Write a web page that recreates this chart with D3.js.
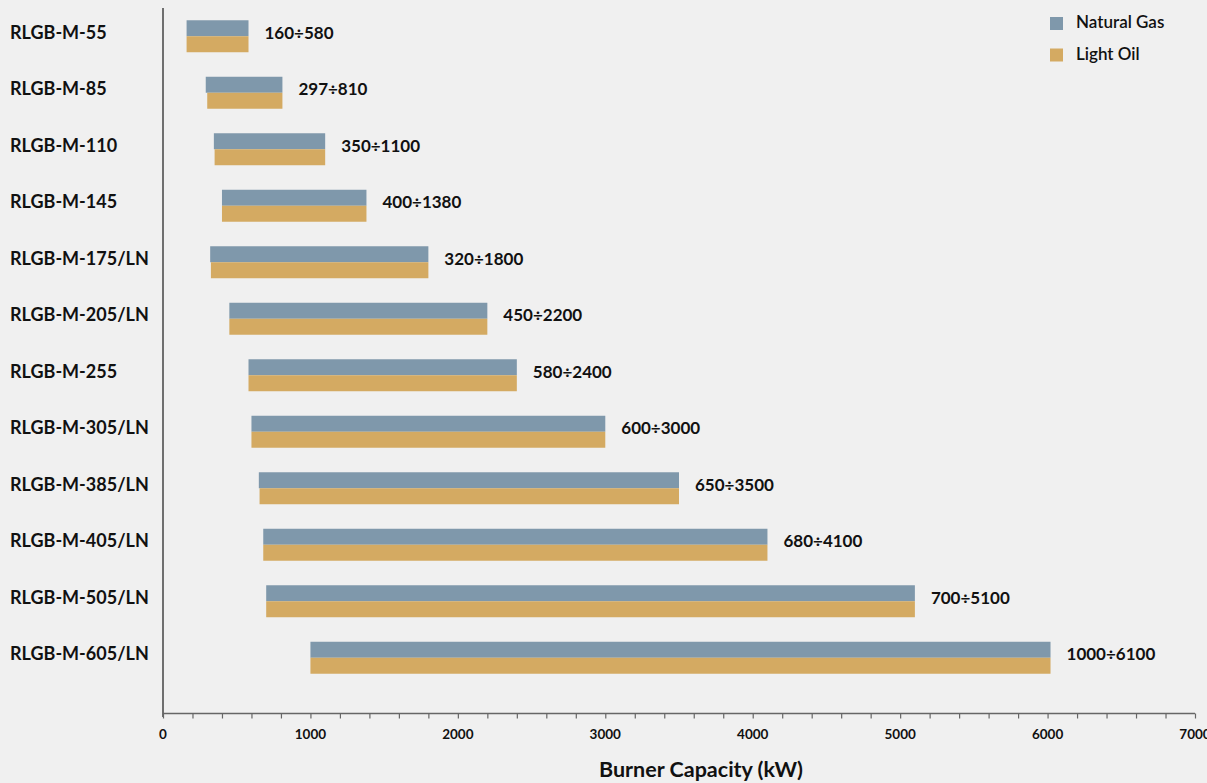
<!DOCTYPE html>
<html>
<head>
<meta charset="utf-8">
<script src="https://cdn.jsdelivr.net/npm/d3@7"></script>
<style>
  html, body { margin: 0; padding: 0; background: #f0f0f0; }
  svg { display: block; font-family: Lato, "Open Sans", sans-serif; }
</style>
</head>
<body>
<svg id="chart" width="1207" height="783"></svg>
<script>
// ---- data ----
const categories = ["RLGB-M-55","RLGB-M-85","RLGB-M-110","RLGB-M-145","RLGB-M-175/LN","RLGB-M-205/LN",
  "RLGB-M-255","RLGB-M-305/LN","RLGB-M-385/LN","RLGB-M-405/LN","RLGB-M-505/LN","RLGB-M-605/LN"];
const gasMin = [160, 290, 345, 400, 320, 450, 580, 600, 650, 680, 700, 1000];
const gasMax = [580, 810, 1100, 1380, 1800, 2200, 2400, 3000, 3500, 4100, 5100, 6020];
const oilMin = [160, 300, 350, 400, 325, 450, 580, 600, 655, 680, 700, 1000];
const oilMax = [580, 810, 1100, 1380, 1800, 2200, 2400, 3000, 3500, 4100, 5100, 6020];
const rangeLabels = ["160÷580","297÷810","350÷1100","400÷1380","320÷1800","450÷2200",
  "580÷2400","600÷3000","650÷3500","680÷4100","700÷5100","1000÷6100"];
const seriesNames = ["Natural Gas", "Light Oil"];
const seriesColors = ["#7f98ab", "#d4aa62"];
const xTicks = [0, 1000, 2000, 3000, 4000, 5000, 6000, 7000];
const xTitle = "Burner Capacity (kW)";

// ---- layout ----
const svg = d3.select("#chart");
const x = d3.scaleLinear().domain([0, 7000]).range([163, 1195]);
const y = d3.scaleBand().domain(categories).range([8, 686]).paddingInner(0.434).paddingOuter(0.217);
const sub = d3.scaleBand().domain(seriesNames).range([0, y.bandwidth()]);
const color = d3.scaleOrdinal().domain(seriesNames).range(seriesColors);

const rows = categories.map((c, i) => ({
  cat: c, label: rangeLabels[i],
  series: [
    {name: seriesNames[0], lo: gasMin[i], hi: gasMax[i]},
    {name: seriesNames[1], lo: oilMin[i], hi: oilMax[i]}
  ]
}));

// bars
const g = svg.append("g");
const rg = g.selectAll("g.row").data(rows).join("g")
  .attr("transform", d => `translate(0,${y(d.cat)})`);
rg.selectAll("rect").data(d => d.series).join("rect")
  .attr("x", d => x(d.lo))
  .attr("y", d => sub(d.name))
  .attr("width", d => x(d.hi) - x(d.lo))
  .attr("height", sub.bandwidth())
  .attr("fill", d => color(d.name));

// value labels
rg.append("text")
  .attr("x", d => x(Math.max(d.series[0].hi, d.series[1].hi)) + 16)
  .attr("y", y.bandwidth() / 2 - 2)
  .attr("dominant-baseline", "middle")
  .attr("font-size", 17).attr("font-weight", 700).attr("fill", "#111")
  .text(d => d.label);

// category labels
svg.append("g").selectAll("text").data(categories).join("text")
  .attr("x", 10)
  .attr("y", d => y(d) + y.bandwidth() / 2 - 2)
  .attr("dominant-baseline", "middle")
  .attr("font-size", 18).attr("font-weight", 700).attr("fill", "#111")
  .text(d => d);

// y axis line
svg.append("line")
  .attr("x1", x(0)).attr("x2", x(0)).attr("y1", 8).attr("y2", 717)
  .attr("stroke", "#444").attr("stroke-width", 1.5);

// x axis
const xAxis = svg.append("g").attr("transform", "translate(0,713.5)");
xAxis.call(d3.axisBottom(x).tickValues(d3.range(0, 7001, 200)).tickSize(5).tickFormat(""));
xAxis.select(".domain").attr("stroke", "#666").attr("stroke-width", 1.5).attr("d", `M${x(0)},0H${x(7000)}`);
xAxis.selectAll(".tick line").attr("stroke", "#666").attr("stroke-width", 1.2);
svg.append("g").selectAll("text").data(xTicks).join("text")
  .attr("x", d => x(d)).attr("y", 736)
  .attr("text-anchor", "middle").attr("dominant-baseline", "middle")
  .attr("font-size", 13.5).attr("font-weight", 700).attr("fill", "#111")
  .text(d => d);

// axis title
svg.append("text")
  .attr("x", 701).attr("y", 771)
  .attr("text-anchor", "middle").attr("dominant-baseline", "middle")
  .attr("font-size", 21.5).attr("font-weight", 700).attr("fill", "#111")
  .text(xTitle);

// legend
const lg = svg.append("g").selectAll("g").data(seriesNames).join("g")
  .attr("transform", (d, i) => `translate(1050,${17 + i * 31.5})`);
lg.append("rect").attr("width", 13).attr("height", 13).attr("fill", d => color(d));
lg.append("text").attr("x", 26).attr("y", 7).attr("dominant-baseline", "middle")
  .attr("font-size", 17).attr("font-weight", 600).attr("fill", "#111").text(d => d);
</script>
</body>
</html>
